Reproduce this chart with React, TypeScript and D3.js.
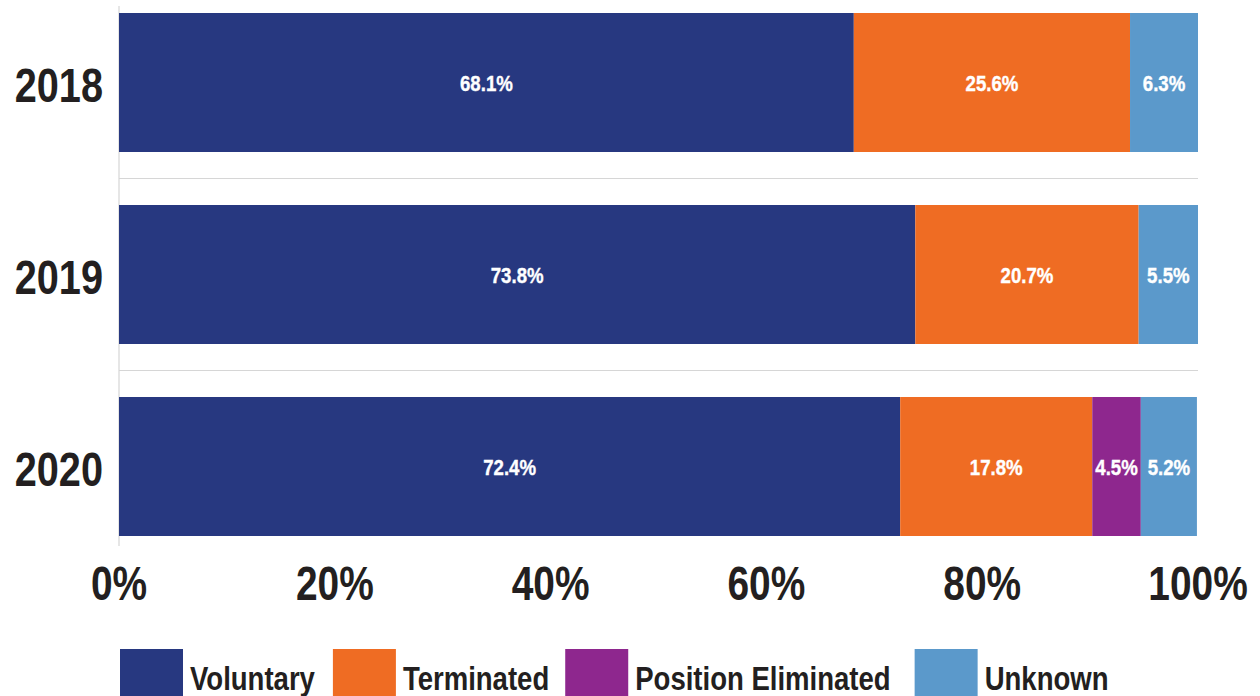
import React, { useEffect, useRef } from "react";
import * as d3 from "d3";

const years = ["2018", "2019", "2020"];
const seriesNames = ["Voluntary", "Terminated", "Position Eliminated", "Unknown"];
const voluntary = [68.1, 73.8, 72.4];
const terminated = [25.6, 20.7, 17.8];
const positionEliminated = [0, 0, 4.5];
const unknown = [6.3, 5.5, 5.2];
const xTicks = [0, 20, 40, 60, 80, 100];
const colors = ["#273880", "#EF6C23", "#8E278E", "#5B99CB"];

const FONT = "'Liberation Sans', Arial, sans-serif";
const SX = 0.81;

export default function App() {
  const ref = useRef<SVGSVGElement | null>(null);

  useEffect(() => {
    const svg = d3.select(ref.current);
    svg.selectAll("*").remove();

    const x = d3.scaleLinear().domain([0, 100]).range([119, 1198]);
    const y = d3
      .scaleBand<string>()
      .domain(years)
      .range([13, 536])
      .paddingInner(53 / 192)
      .paddingOuter(0);

    const rows = years.map((yr, i) => ({
      year: yr,
      Voluntary: voluntary[i],
      Terminated: terminated[i],
      "Position Eliminated": positionEliminated[i],
      Unknown: unknown[i],
    }));
    const stack = d3.stack<any>().keys(seriesNames)(rows);

    const bw = y.bandwidth();
    const step = y.step();
    const grid = years.slice(1).map((yr) => (y(yr) as number) - (step - bw) / 2);
    svg
      .append("g")
      .selectAll("line")
      .data(grid)
      .join("line")
      .attr("x1", x(0))
      .attr("x2", x(100))
      .attr("y1", (d) => d)
      .attr("y2", (d) => d)
      .attr("stroke", "#d6d6d6")
      .attr("stroke-width", 1.2);

    svg
      .append("line")
      .attr("x1", x(0))
      .attr("x2", x(0))
      .attr("y1", 6)
      .attr("y2", 546)
      .attr("stroke", "#d6d6d6")
      .attr("stroke-width", 1.2);

    const layers = svg
      .append("g")
      .selectAll("g")
      .data(stack)
      .join("g")
      .attr("fill", (_d, i) => colors[i]);

    layers
      .selectAll("rect")
      .data((d) => d.map((s) => ({ s, key: d.key })))
      .join("rect")
      .attr("x", (d) => x(d.s[0]))
      .attr("width", (d) => x(d.s[1]) - x(d.s[0]))
      .attr("y", (d) => y(d.s.data.year) as number)
      .attr("height", bw);

    const labelLayer = svg.append("g");
    stack.forEach((layer) => {
      layer.forEach((s) => {
        if (s[1] - s[0] <= 0) return;
        const cx = (x(s[0]) + x(s[1])) / 2;
        const cy = (y(s.data.year) as number) + bw / 2 + 8.5;
        labelLayer
          .append("text")
          .attr("transform", `translate(${cx},${cy}) scale(${SX},1)`)
          .attr("text-anchor", "middle")
          .attr("fill", "#ffffff")
          .attr("font-family", FONT)
          .attr("font-weight", "bold")
          .attr("font-size", 23)
          .attr("stroke", "#ffffff")
          .attr("stroke-width", 0.4)
          .text(`${(s[1] - s[0]).toFixed(1)}%`);
      });
    });

    svg
      .append("g")
      .selectAll("text")
      .data(years)
      .join("text")
      .attr("transform", (d) => `translate(103,${(y(d) as number) + bw / 2 + 19}) scale(${SX},1)`)
      .attr("text-anchor", "end")
      .attr("fill", "#231f20")
      .attr("font-family", FONT)
      .attr("font-weight", "bold")
      .attr("font-size", 49)
      .text((d) => d);

    svg
      .append("g")
      .selectAll("text")
      .data(xTicks)
      .join("text")
      .attr("transform", (d) => `translate(${x(d)},600) scale(${SX},1)`)
      .attr("text-anchor", "middle")
      .attr("fill", "#231f20")
      .attr("font-family", FONT)
      .attr("font-weight", "bold")
      .attr("font-size", 48)
      .text((d) => `${d}%`);

    const lg = svg.append("g");
    let cx = 120;
    const gaps = [18, 16, 24, 0];
    seriesNames.forEach((name, i) => {
      lg.append("rect")
        .attr("x", cx)
        .attr("y", 649)
        .attr("width", 63)
        .attr("height", 63)
        .attr("fill", colors[i]);
      const t = lg
        .append("text")
        .attr("transform", `translate(${cx + 70},690) scale(${SX},1)`)
        .attr("fill", "#231f20")
        .attr("font-family", FONT)
        .attr("font-weight", "bold")
        .attr("font-size", 34)
        .text(name);
      const w = (t.node() as SVGTextElement).getComputedTextLength() * SX;
      cx = cx + 70 + w + gaps[i];
    });
  }, []);

  return (
    <svg
      ref={ref}
      width={1260}
      height={696}
      style={{ position: "absolute", left: 0, top: 0, display: "block", background: "#fff" }}
    />
  );
}
